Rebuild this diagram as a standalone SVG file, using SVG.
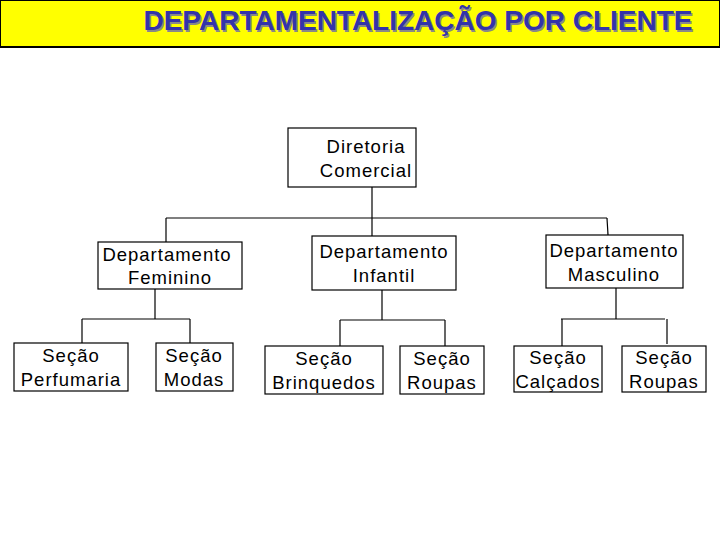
<svg xmlns="http://www.w3.org/2000/svg" width="720" height="540" viewBox="0 0 720 540">
<style>
.b{fill:#fff;stroke:#000;stroke-width:1.2}
.t{font-family:"Liberation Sans",Arial,sans-serif;font-size:18.5px;text-anchor:middle;letter-spacing:1px;fill:#000}
.c line{stroke:#000;stroke-width:1.2}
.h{font-family:"Liberation Sans",Arial,sans-serif;font-size:28px;font-weight:bold;text-anchor:middle}
</style>
<rect width="720" height="540" fill="#fff"/>
<g id="title">
<rect x="0" y="0" width="720" height="47" fill="#ffff00" stroke="#000" stroke-width="2"/>
<text class="h" x="419.5" y="31.5" fill="#888">DEPARTAMENTALIZAÇÃO POR CLIENTE</text>
<text class="h" x="418" y="30" fill="#3333aa">DEPARTAMENTALIZAÇÃO POR CLIENTE</text>
</g>
<g class="c" id="connectors">
<line x1="372" y1="187" x2="372" y2="218"/>
<line x1="166" y1="218" x2="607" y2="218"/>
<line x1="166" y1="218" x2="166" y2="242"/>
<line x1="372" y1="218" x2="372" y2="236"/>
<line x1="607" y1="218" x2="608" y2="235"/>
<line x1="155" y1="289" x2="155" y2="319"/>
<line x1="82" y1="319" x2="190" y2="319"/>
<line x1="82" y1="319" x2="82" y2="343"/>
<line x1="190" y1="319" x2="190" y2="343"/>
<line x1="382" y1="290" x2="382" y2="320"/>
<line x1="340" y1="320" x2="445" y2="320"/>
<line x1="340" y1="320" x2="340" y2="346"/>
<line x1="445" y1="320" x2="445" y2="346"/>
<line x1="616" y1="288" x2="616" y2="319"/>
<line x1="561" y1="319" x2="665" y2="319"/>
<line x1="562" y1="319" x2="562" y2="346"/>
<line x1="667" y1="319" x2="667" y2="344"/>
</g>
<g id="diretoria"><rect class="b" x="288" y="128" width="128" height="59"/><text class="t" x="366" y="153">Diretoria</text><text class="t" x="366" y="177">Comercial</text></g>
<g id="feminino"><rect class="b" x="98" y="242" width="144" height="47"/><text class="t" x="167" y="261">Departamento</text><text class="t" x="170" y="284">Feminino</text></g>
<g id="infantil"><rect class="b" x="312" y="236" width="144" height="54"/><text class="t" x="384" y="258">Departamento</text><text class="t" x="384" y="282">Infantil</text></g>
<g id="masculino"><rect class="b" x="546" y="235" width="137" height="53"/><text class="t" x="614" y="257">Departamento</text><text class="t" x="614" y="281">Masculino</text></g>
<g id="perfumaria"><rect class="b" x="14" y="343" width="114" height="48"/><text class="t" x="71" y="362">Seção</text><text class="t" x="71" y="386">Perfumaria</text></g>
<g id="modas"><rect class="b" x="156" y="343" width="77" height="48"/><text class="t" x="194" y="362">Seção</text><text class="t" x="194" y="386">Modas</text></g>
<g id="brinquedos"><rect class="b" x="265" y="346" width="118" height="48"/><text class="t" x="324" y="365">Seção</text><text class="t" x="324" y="389">Brinquedos</text></g>
<g id="roupas1"><rect class="b" x="400" y="346" width="84" height="48"/><text class="t" x="442" y="365">Seção</text><text class="t" x="442" y="389">Roupas</text></g>
<g id="calcados"><rect class="b" x="514" y="346" width="88" height="46"/><text class="t" x="558" y="364">Seção</text><text class="t" x="558" y="388">Calçados</text></g>
<g id="roupas2"><rect class="b" x="622" y="346" width="84" height="46"/><text class="t" x="664" y="364">Seção</text><text class="t" x="664" y="388">Roupas</text></g>
</svg>
